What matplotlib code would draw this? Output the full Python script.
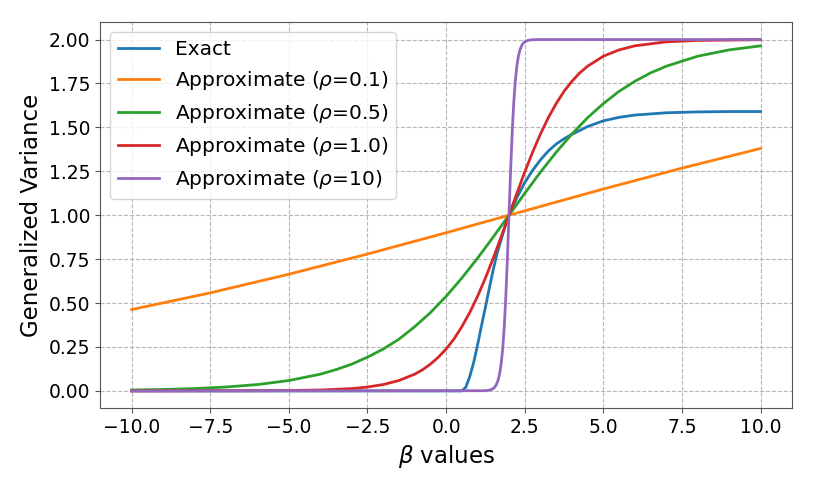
import matplotlib
matplotlib.use('Agg')
import matplotlib.pyplot as plt

# values
beta_exact = [-10.0, -5.0, 0.0, 0.5, 0.625, 0.75, 0.875, 1.0, 1.125, 1.25, 1.375, 1.5,
              1.625, 1.75, 1.875, 2.0, 2.25, 2.5, 2.75, 3.0, 3.25, 3.5, 3.75, 4.0,
              4.5, 5.0, 5.5, 6.0, 7.0, 8.0, 9.0, 10.0]
exact = [0.0, 0.0, 0.0, 0.0, 0.02, 0.08, 0.16, 0.26, 0.37, 0.475, 0.585, 0.69,
         0.785, 0.86, 0.935, 1.0, 1.1, 1.185, 1.255, 1.315, 1.365, 1.405, 1.435, 1.46,
         1.505, 1.537, 1.557, 1.57, 1.583, 1.588, 1.59, 1.59]

beta_01 = [-10.0, -7.5, -5.0, -2.5, 0.0, 2.5, 5.0, 7.5, 10.0]
approx_01 = [0.463, 0.558, 0.664, 0.779, 0.900, 1.025, 1.149, 1.268, 1.380]

beta_05 = [-10, -9, -8, -7, -6, -5, -4, -3.5, -3, -2.5, -2, -1.5, -1, -0.5, 0, 0.5,
           1, 1.5, 2, 2.5, 3, 3.5, 4, 4.5, 5, 5.5, 6, 6.5, 7, 8, 9, 10]
approx_05 = [0.005, 0.008, 0.013, 0.022, 0.036, 0.059, 0.095, 0.121, 0.152, 0.192,
             0.238, 0.294, 0.365, 0.445, 0.538, 0.642, 0.755, 0.876, 1.0, 1.124,
             1.245, 1.358, 1.462, 1.555, 1.635, 1.705, 1.762, 1.810, 1.848, 1.905,
             1.941, 1.964]

beta_10 = [-10.0, -6.0, -5.0, -4.0, -3.0, -2.5, -2.0, -1.5, -1.0, -0.75, -0.5, -0.25,
           0.0, 0.25, 0.5, 0.75, 1.0, 1.25, 1.5, 1.75, 2.0, 2.25, 2.5, 2.75, 3.0,
           3.25, 3.5, 3.75, 4.0, 4.25, 4.5, 5.0, 5.5, 6.0, 7.0, 8.0, 10.0]
approx_10 = [0.0, 0.001, 0.002, 0.005, 0.013, 0.022, 0.036, 0.059, 0.095, 0.120,
             0.152, 0.191, 0.238, 0.295, 0.365, 0.445, 0.538, 0.642, 0.755, 0.876,
             1.0, 1.124, 1.245, 1.358, 1.462, 1.555, 1.635, 1.705, 1.762, 1.810,
             1.848, 1.905, 1.941, 1.964, 1.987, 1.995, 1.999]

beta_100 = [-10.0, 1.2, 1.3, 1.4, 1.5, 1.55, 1.6, 1.65, 1.7, 1.75, 1.8, 1.85, 1.9,
            1.95, 2.0, 2.05, 2.1, 2.15, 2.2, 2.25, 2.3, 2.35, 2.4, 2.45, 2.5, 2.6,
            2.7, 2.8, 3.0, 10.0]
approx_100 = [0.0, 0.001, 0.002, 0.005, 0.013, 0.022, 0.036, 0.059, 0.095, 0.152,
              0.238, 0.365, 0.538, 0.755, 1.0, 1.245, 1.462, 1.635, 1.762, 1.848,
              1.905, 1.941, 1.964, 1.978, 1.987, 1.995, 1.998, 1.999, 2.0, 2.0]

fig = plt.figure(figsize=(8.14, 4.88), dpi=100)
ax = fig.add_axes([0.123, 0.163, 0.85, 0.792])

lw = 2
ax.plot(beta_exact, exact, lw=lw, label='Exact')
ax.plot(beta_01, approx_01, lw=lw, label=r'Approximate ($\rho$=0.1)')
ax.plot(beta_05, approx_05, lw=lw, label=r'Approximate ($\rho$=0.5)')
ax.plot(beta_10, approx_10, lw=lw, label=r'Approximate ($\rho$=1.0)')
ax.plot(beta_100, approx_100, lw=lw, label=r'Approximate ($\rho$=10)')

ax.set_xlabel(r'$\beta$ values', fontsize=16.5)
ax.set_ylabel('Generalized Variance', fontsize=16.5)
ax.tick_params(labelsize=13.5, color='#555555')
for s in ax.spines.values():
    s.set_color('#555555')
ax.grid(True, linestyle='--', color='#b0b0b0', alpha=0.9)
ax.legend(loc='upper left', fontsize=14.5)

fig.savefig('out.png', dpi=100)
